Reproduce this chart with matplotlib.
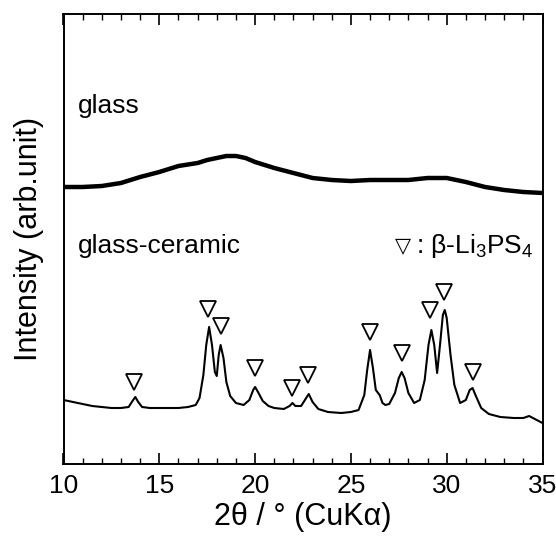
import matplotlib
matplotlib.use("Agg")
import matplotlib.pyplot as plt
from matplotlib.ticker import MultipleLocator

plt.rcParams['font.family'] = ['Liberation Sans', 'DejaVu Sans']
plt.rcParams['mathtext.fontset'] = 'custom'
plt.rcParams['mathtext.rm'] = 'Liberation Sans'
plt.rcParams['mathtext.it'] = 'Liberation Sans:italic'

# glass (amorphous) pattern, arbitrary intensity units
glass_2theta = [10, 11, 12, 13, 14, 15, 16, 17, 17.5, 18, 18.5, 19, 19.5, 20, 21, 22, 23,
                24, 25, 26, 27, 28, 29, 30, 31, 32, 33, 34, 35]
glass_int = [280, 280, 281, 284, 290, 295, 301, 304, 307, 309, 311, 311, 309, 305, 299,
             294, 289, 287, 286, 287, 287, 287, 289, 289, 285, 280, 277, 275, 274]

# glass-ceramic pattern
gc_2theta = [10.0, 10.5, 11, 11.5, 12, 12.5, 13, 13.4, 13.6, 13.75, 13.9, 14.1, 14.5, 15,
             15.5, 16, 16.5, 16.9, 17.1, 17.3, 17.45, 17.6, 17.75, 17.9, 18.0, 18.1, 18.2,
             18.35, 18.5, 18.7, 19.0, 19.4, 19.7, 19.9, 20.0, 20.15, 20.4, 20.7, 21.0, 21.5,
             21.8, 21.95, 22.1, 22.4, 22.6, 22.8, 23.0, 23.3, 23.8, 24.5, 25.0, 25.4, 25.7,
             25.85, 26.0, 26.15, 26.3, 26.5, 26.65, 26.8, 27.0, 27.3, 27.5, 27.65, 27.8,
             28.0, 28.3, 28.6, 28.85, 29.05, 29.2, 29.35, 29.5, 29.65, 29.8, 29.9, 30.0,
             30.2, 30.4, 30.7, 31.0, 31.2, 31.35, 31.5, 31.8, 32.2, 32.8, 33.5, 34.0, 34.3,
             34.6, 35.0]
gc_int = [67, 65, 63, 61, 60, 59, 59, 60, 66, 70, 65, 60, 59, 59,
          59, 59, 60, 62, 69, 92, 122, 140, 122, 95, 91, 112, 122,
          109, 85, 71, 64, 62, 67, 77, 80, 75, 66, 61, 59, 58,
          61, 64, 61, 61, 67, 73, 65, 58, 55, 54, 55, 57, 72,
          97, 117, 99, 77, 72, 64, 62, 63, 74, 89, 95, 89,
          74, 64, 67, 87, 122, 137, 122, 94, 122, 152, 157, 149,
          112, 82, 64, 67, 77, 79, 72, 59, 53, 50, 49, 49, 51,
          48, 44]

# beta-Li3PS4 reflection markers
peak_2theta = [13.7, 17.55, 18.2, 20.0, 21.95, 22.75, 26.0, 27.65, 29.15, 29.85, 31.35]
peak_mark = [85, 158, 141, 99, 79, 92, 135, 114, 157, 175, 95]

fig = plt.figure(figsize=(5.56, 5.39), dpi=100)
ax = fig.add_axes([63.5 / 556, 1 - 464 / 539, 479 / 556, 450.5 / 539])

ax.plot(glass_2theta, glass_int, color='black', lw=3.2, solid_joinstyle='round')
ax.plot(gc_2theta, gc_int, color='black', lw=1.5, solid_joinstyle='round')
ax.plot(peak_2theta, peak_mark, linestyle='none', marker='v', ms=11,
        mfc='white', mec='black', mew=1.3)

ax.set_xlim(10, 35)
ax.set_ylim(3, 453.5)
ax.xaxis.set_major_locator(MultipleLocator(5))
ax.xaxis.set_minor_locator(MultipleLocator(1))
ax.set_yticks([])
ax.tick_params(axis='x', which='both', direction='in', top=True, bottom=True)
ax.tick_params(axis='x', which='major', length=8, width=1.2, labelsize=19, pad=7)
ax.tick_params(axis='x', which='minor', length=4.5, width=1.0)
for s in ax.spines.values():
    s.set_linewidth(1.4)

ax.set_xlabel('2θ / ° (CuKα)', fontsize=22, labelpad=3)
ax.set_ylabel('Intensity (arb.unit)', fontsize=22, labelpad=14)

ax.text(10.75, 354, 'glass', fontsize=19, va='baseline', ha='left')
ax.text(10.75, 214, 'glass-ceramic', fontsize=19, va='baseline', ha='left')
ax.text(27.3, 215, '▽', fontsize=15, va='baseline', ha='left', family='DejaVu Sans')
ax.text(28.4, 214, ': β-Li$_{\\mathrm{3}}$PS$_{\\mathrm{4}}$', fontsize=19,
        va='baseline', ha='left')

fig.savefig('out.png', dpi=100)
